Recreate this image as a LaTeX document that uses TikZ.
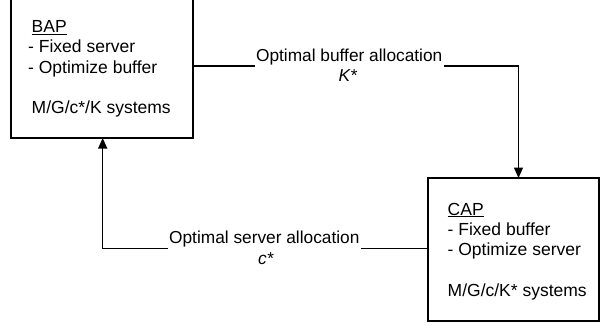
\documentclass[tikz,border=0pt]{standalone}
\usepackage{fontspec}
\setmainfont{Liberation Sans}
\usetikzlibrary{arrows.meta}
\begin{document}
\begin{tikzpicture}[x=1pt,y=-1pt,
  box/.style={draw, line width=1.3pt, inner sep=0pt, outer sep=0pt, anchor=north west},
  txt/.style={inner sep=0pt, anchor=base west, font=\fontsize{17.5}{20}\selectfont},
  lbl/.style={inner xsep=1pt, inner ysep=0pt, anchor=base, font=\fontsize{17.3}{20}\selectfont},
  conn/.style={line width=1.3pt},
  arr/.style={conn, -{Triangle[length=10.5pt,width=9pt]}}]
\useasboundingbox (0,0) rectangle (601,325);

% the two problem boxes
\node[box, minimum width=182pt, minimum height=139pt] (bap) at (11,-1) {};
\node[box, minimum width=171pt, minimum height=143pt] (cap) at (428,178) {};

% contents of the buffer allocation box
\node[txt] (bap1) at (31.5,32.5)  {\underline{BAP}};
\node[txt] (bap2) at (28,52.8)    {- Fixed server};
\node[txt] (bap3) at (28,73.1)    {- Optimize buffer};
\node[txt] (bap4) at (31.5,113.7) {M/G/c*/K systems};

% contents of the server allocation box
\node[txt] (cap1) at (447.5,215) {\underline{CAP}};
\node[txt] (cap2) at (447.5,235) {- Fixed buffer};
\node[txt] (cap3) at (447.5,255) {- Optimize server};
\node[txt] (cap4) at (447.5,296) {M/G/c/K* systems};

% connector labels
\node[lbl] (lbuf) at (349.2,61.7) {Optimal buffer allocation};
\node[lbl] (kst)  at (348,81.5)   {\textit{K*}};
\node[lbl] (lsrv) at (264.3,243.3) {Optimal server allocation};
\node[lbl] (cst)  at (266,264)     {\textit{c*}};

% turning points of the connectors
\coordinate (tturn) at (518.5,66);
\coordinate (bturn) at (102.7,248.3);

% BAP -> CAP
\draw[conn] (bap.east |- tturn) -- ([yshift=-4.3pt]lbuf.base west);
\draw[arr] ([yshift=-4.3pt]lbuf.base east) -- (tturn) -- (tturn |- cap.north);

% CAP -> BAP
\draw[conn] (cap.west |- bturn) -- ([yshift=-5pt]lsrv.base east);
\draw[arr] ([yshift=-5pt]lsrv.base west) -- (bturn) -- (bturn |- bap.south);
\end{tikzpicture}
\end{document}
